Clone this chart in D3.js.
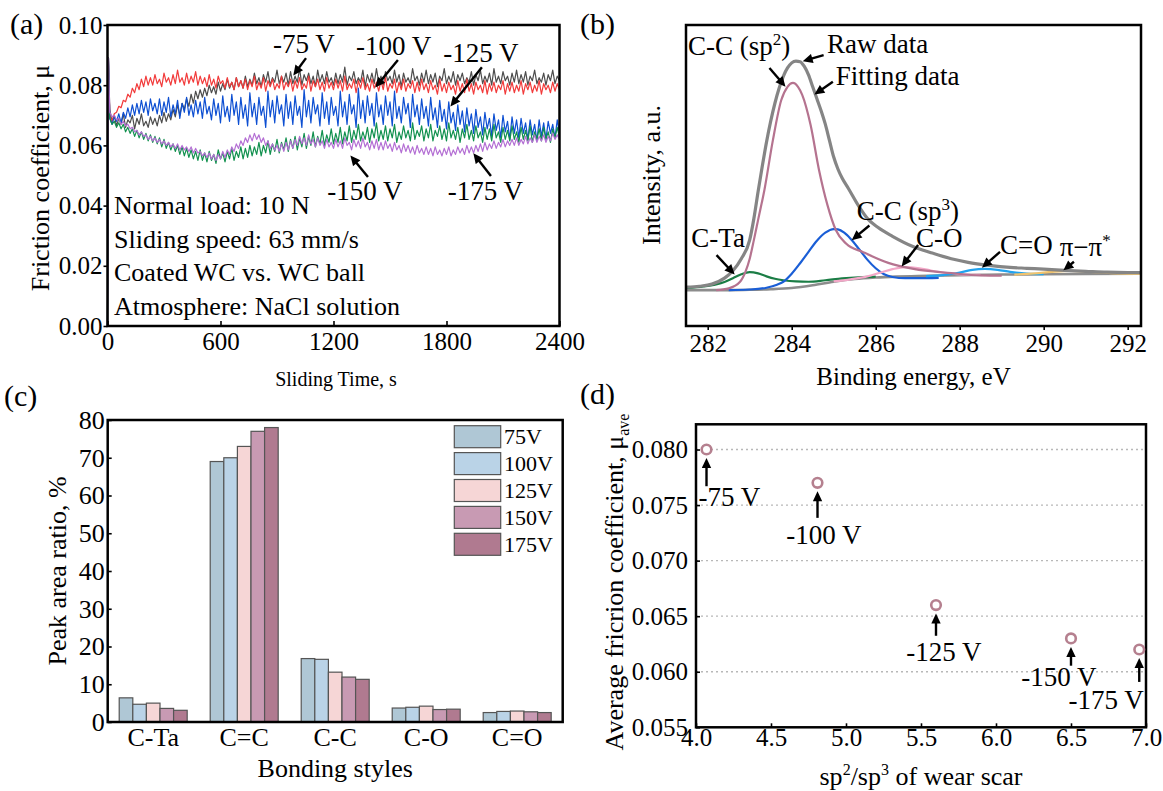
<!DOCTYPE html>
<html><head><meta charset="utf-8">
<script src="https://cdn.jsdelivr.net/npm/d3@7"></script>
<style>
body{margin:0;background:#fff}
svg{display:block}
</style></head><body>
<svg id="chart" width="1163" height="791"></svg>
<script>
// ================= DATA =================
// Panel (a): friction coefficient (x1000) vs sliding time (s)
const timeS = [0, 5, ...d3.range(12, 2401, 12)];
const timeTicks = [0, 600, 1200, 1800, 2400];
const muTicks = [0, 20, 40, 60, 80, 100];
const mu75 = [0, 89,
  72, 68, 70, 66.5, 69, 67, 70.5, 66, 68.5, 67.5, 70, 65.5, 69, 67, 70.5, 66.5, 68, 66, 69.5, 67,
  69, 66.5, 70, 67.5, 71, 68, 70.5, 68.5, 72, 69.5, 73.5, 70, 74, 72, 75.5, 73, 77, 74, 78, 75.5,
  78.5, 76, 79, 76.5, 80, 77.5, 79.5, 77, 81, 78, 80.5, 78.5, 82, 79, 81, 78.5, 82.5, 79.5, 81.5, 79,
  83, 79.5, 82, 80, 84, 80.5, 82.5, 79.5, 83.5, 81, 84.5, 80, 82.5, 81, 85, 80.5, 83, 81, 84, 80,
  84.5, 80.5, 83, 81, 85.5, 80, 83.5, 81.5, 84, 80.5, 83, 79.5, 85, 81, 83.5, 80.5, 84.5, 81, 82.5, 80,
  84, 80.5, 83.5, 81, 86, 80, 83, 81.5, 84.5, 80.5, 82.5, 81, 85, 79.5, 83.5, 81, 84, 80.5, 85.5, 81,
  83, 80, 84.5, 81.5, 83, 80.5, 85, 81, 83.5, 79.5, 84, 81, 82.5, 80.5, 85.5, 81.5, 83, 80, 84, 81,
  85, 80.5, 83.5, 81, 84, 79.5, 83, 81.5, 85.5, 80.5, 83, 81, 84.5, 80, 83.5, 81.5, 84, 80.5, 82.5, 81,
  84.5, 80, 83.5, 81.5, 85, 80.5, 83, 81, 84, 80, 85.5, 81, 83, 80.5, 84.5, 81.5, 83, 80, 84, 81,
  85, 80.5, 83.5, 81, 84.5, 80, 83, 81.5, 85, 80.5, 82.5, 81, 84, 80, 83.5, 81.5, 85, 80.5, 83, 81.5];
const mu100 = [0, 89,
  70, 68, 70.5, 71, 73, 72.5, 75, 74.5, 77, 76, 79, 77.5, 80.5, 78.5, 82, 79.5, 83, 80, 82.5, 80,
  83.5, 80.5, 82, 79.5, 84, 81, 82.5, 80, 83.5, 80.5, 85, 81, 82.5, 80, 84, 80.5, 83, 81, 84.5, 80,
  83, 80.5, 82.5, 79.5, 83.5, 80, 82, 79, 83, 80.5, 81.5, 79, 82.5, 79.5, 81, 78.5, 82.5, 79.5, 81.5, 79,
  82, 78.5, 81.5, 79.5, 83, 78.5, 81, 79, 82.5, 78, 81.5, 79.5, 82, 78.5, 80.5, 79, 83, 78.5, 81, 79.5,
  82, 78, 81.5, 79, 82.5, 78.5, 80.5, 79, 83, 78, 81.5, 79.5, 82, 78.5, 81, 78, 82.5, 79, 81, 78.5,
  82, 79, 81.5, 78, 83, 78.5, 80.5, 79, 82, 77.5, 81.5, 79, 82.5, 78.5, 80.5, 78, 82, 79, 81, 78,
  81.5, 78.5, 82.5, 78, 80.5, 79, 82, 77.5, 81, 78.5, 82, 78, 80.5, 79, 81.5, 77.5, 81, 78, 82, 78.5,
  80.5, 77.5, 81.5, 78.5, 80, 77, 82, 78, 80.5, 77.5, 81, 78.5, 80, 77, 81.5, 78, 80.5, 77.5, 82, 78,
  80.5, 77, 81, 78.5, 80, 77.5, 81.5, 77, 80.5, 78, 81, 77.5, 80, 78.5, 81.5, 77, 80.5, 78, 81, 77.5,
  80, 78, 81.5, 77, 80.5, 78.5, 81, 77.5, 80, 78, 81.5, 77, 80.5, 78.5, 80, 77.5, 81, 78, 80.5, 78.5];
const mu125 = [0, 89,
  69, 67, 69.5, 68, 70.5, 67.5, 71, 69, 72.5, 69.5, 73.5, 70, 74, 70.5, 75, 71, 74.5, 70, 75.5, 71.5,
  74, 70.5, 75.5, 70, 74.5, 71, 76, 69.5, 73.5, 70.5, 75, 69, 74, 71, 76, 70, 73.5, 69.5, 75, 70.5,
  74.5, 69, 76, 70.5, 73, 68.5, 75.5, 70, 74, 67.5, 76.5, 69.5, 73, 68, 77, 70, 74.5, 67, 76, 69,
  73.5, 66.5, 77.5, 69.5, 74, 67, 76, 70, 73, 66, 78, 69.5, 75, 67.5, 76.5, 70.5, 73.5, 66.5, 77, 69,
  74.5, 67, 76.5, 70, 73, 66, 78.5, 69.5, 75, 67.5, 76, 70.5, 73.5, 66.5, 77.5, 69, 74.5, 67, 76, 70,
  73, 66.5, 78, 69.5, 74.5, 67, 77, 70.5, 73.5, 66, 79, 69, 75, 67.5, 76.5, 70, 74, 66.5, 77.5, 69.5,
  73.5, 67, 76.5, 70, 74.5, 66.5, 78, 69, 73, 67.5, 76, 70.5, 74, 66, 77, 69.5, 73.5, 67, 75.5, 69,
  73, 66.5, 76, 68.5, 72.5, 66, 75, 68, 72, 65.5, 74.5, 67.5, 71, 65, 73.5, 67, 71.5, 64.5, 72.5, 66.5,
  70.5, 64, 72, 66, 69.5, 63.5, 71, 65.5, 69, 63, 70.5, 65, 68.5, 62.5, 70, 64.5, 68, 62, 69.5, 64,
  68.5, 62.5, 69, 64, 67.5, 62, 68.5, 63.5, 67, 61.5, 68.5, 63, 67.5, 62, 68, 64, 67, 62.5, 68.5, 64];
const mu150 = [0, 89,
  69, 67, 68, 66, 67.5, 65.5, 67, 64.5, 66, 64, 65.5, 63, 65, 62.5, 64.5, 62, 64, 61.5, 63.5, 61,
  63, 60.5, 62.5, 59.5, 62, 59, 61, 58.5, 60.5, 58, 60, 57, 59.5, 56.5, 59, 56, 58.5, 55.5, 58, 55,
  58.5, 55, 57.5, 54.5, 58, 55, 57, 54, 58.5, 55.5, 57.5, 54.5, 58, 55.5, 59, 55, 58, 56, 59.5, 55.5,
  59, 56, 60, 56.5, 59.5, 57, 61, 56.5, 60, 57.5, 61.5, 57, 60.5, 58, 62, 57.5, 61, 58.5, 62.5, 58,
  62, 59, 63, 58.5, 62.5, 59.5, 64, 59, 63, 60, 64.5, 59.5, 63, 60.5, 65, 60, 63.5, 61, 65.5, 60.5,
  64, 61, 66, 60.5, 64.5, 61.5, 66.5, 61, 65, 62, 67, 61.5, 64.5, 62, 66, 61, 65.5, 62.5, 67.5, 61.5,
  65, 62, 66.5, 61.5, 65.5, 62.5, 67, 61, 64.5, 62, 66.5, 62.5, 65, 61.5, 67.5, 62, 65, 63, 66.5, 61.5,
  65.5, 62.5, 67, 61.5, 65, 63, 66.5, 62, 65.5, 61.5, 67.5, 62.5, 65, 62, 66, 61, 65.5, 62.5, 67, 62,
  65, 61.5, 66.5, 62.5, 64.5, 61, 66, 62, 65.5, 61.5, 67, 62.5, 64.5, 61, 66, 62, 65, 61.5, 66.5, 62,
  64.5, 61, 66, 62, 65, 61.5, 66.5, 61, 64.5, 62, 65.5, 61.5, 66, 62, 64.5, 61, 65.5, 62.5, 66, 62.5];
const mu175 = [0, 89,
  71, 69.5, 70, 68.5, 69, 67, 68, 66.5, 67, 65.5, 66, 64.5, 65, 63.5, 64.5, 63, 63.5, 62, 63, 61.5,
  62.5, 61, 62, 60.5, 61.5, 60, 61, 59.5, 60.5, 59, 60.5, 58.5, 60, 58.5, 59.5, 58, 59.5, 57.5, 59, 57.5,
  58, 56.5, 57.5, 56, 57.5, 55.5, 57, 55, 57, 55.5, 58, 56, 58.5, 57, 59.5, 58, 60.5, 59, 61.5, 60,
  62.5, 61, 63.5, 61.5, 64, 62, 63.5, 61, 62.5, 60, 61.5, 59, 60.5, 58.5, 60, 58, 60.5, 58, 61, 58.5,
  61.5, 59, 62, 60, 63, 60.5, 62.5, 60, 63.5, 60.5, 62, 59.5, 62.5, 60, 61.5, 59, 62, 59.5, 61, 59,
  62, 59.5, 61.5, 59, 62.5, 60, 61, 58.5, 62, 59.5, 61.5, 59, 62.5, 59.5, 61, 58.5, 61.5, 59, 62, 58.5,
  61, 58.5, 61.5, 59, 60.5, 58, 61, 58.5, 60, 57.5, 60.5, 58, 60, 57.5, 59.5, 57, 60, 57.5, 59, 57,
  59.5, 57, 59, 56.5, 59.5, 57, 58.5, 56.5, 59, 57, 59.5, 56.5, 58.5, 57, 59.5, 57.5, 59, 57, 60, 57.5,
  59.5, 57.5, 60, 58, 60.5, 58, 61, 58.5, 60.5, 59, 61.5, 59, 61, 59.5, 62, 59.5, 61.5, 60, 62, 60,
  62.5, 60, 62, 60.5, 63, 60.5, 62.5, 61, 63.5, 61, 63, 61.5, 63.5, 61, 63, 61.5, 64, 62, 63.5, 62];
const conditionLines = ["Normal load: 10 N", "Sliding speed: 63 mm/s", "Coated WC vs. WC ball", "Atmosphere: NaCl solution"];

// Panel (b): XPS C1s spectrum, [binding energy eV, intensity a.u.]
const eVTicks = [282, 284, 286, 288, 290, 292];
const xpsRaw = [[281.5,13.0],[281.8,13.3],[282.1,14.0],[282.4,16.0],[282.6,18.5],[282.8,22.5],[283.0,28.8],[283.1,36],[283.2,45],[283.3,53.5],[283.4,61.5],[283.5,68.5],[283.6,74.5],[283.7,79.5],[283.8,83.5],[283.9,86.3],[284.0,88],[284.1,88.6],[284.2,88.4],[284.3,86.8],[284.4,84],[284.5,80],[284.6,76],[284.7,72],[284.8,67.5],[284.9,62],[285.0,56.5],[285.1,52.5],[285.2,49.5],[285.35,46],[285.6,40],[285.8,36],[286.05,33],[286.4,30],[286.9,26.5],[287.3,24.6],[287.8,22.5],[288.2,21.3],[288.7,20.3],[289.2,19.6],[289.6,19.3],[290.0,19.0],[290.5,18.6],[291.0,18.3],[291.5,18.0],[292.0,17.9],[292.32,17.9]];
const xpsBackground = [[281.5,12.0],[282.5,12.0],[283.0,12.1],[283.5,12.3],[284.0,12.7],[284.5,13.6],[285.0,14.8],[285.5,15.7],[286.0,16.2],[286.5,16.5],[287.0,16.7],[288.0,17.0],[289.0,17.2],[290.0,17.3],[291.0,17.4],[292.32,17.5]];
const xpsCTa = [[281.5,12.7],[281.9,13.2],[282.2,13.9],[282.4,14.7],[282.6,16.0],[282.8,17.3],[283.0,18.0],[283.2,17.6],[283.4,16.6],[283.6,15.8],[283.8,15.3],[284.1,14.9],[284.4,14.8],[284.8,15.3],[285.2,15.9],[285.6,16.3],[286.0,16.5]];
const xpsSp2 = [[282.2,12.0],[282.5,12.6],[282.77,14.8],[282.9,18.2],[283.0,22.5],[283.1,28.8],[283.2,35.5],[283.35,45.5],[283.55,62],[283.75,75.5],[283.9,80],[284.03,81.3],[284.15,80],[284.25,77.3],[284.45,67.2],[284.65,52.2],[284.85,40.5],[285.05,32.1],[285.3,27.5],[285.7,24.7],[286.3,21.1],[286.9,19.1],[287.8,17.7],[288.5,16.9],[289.0,16.8]];
const xpsSp3 = [[282.5,12.0],[283.0,12.2],[283.4,12.8],[283.65,13.8],[283.8,14.8],[284.0,17.5],[284.2,21],[284.4,24.8],[284.6,28.5],[284.8,31.2],[285.0,32.4],[285.1,32.3],[285.25,31.2],[285.4,29.2],[285.6,25.8],[285.8,22.2],[286.0,19.3],[286.2,17.3],[286.4,16.4],[286.7,16.0],[287.0,16.0],[287.5,16.1]];
const xpsCO = [[285.0,14.9],[285.4,15.6],[285.8,16.6],[286.1,17.8],[286.4,19.0],[286.7,19.7],[287.0,19.4],[287.3,18.6],[287.7,17.7],[288.1,17.2],[288.5,17.1]];
const xpsCdO = [[287.2,16.7],[287.6,17.0],[288.0,17.9],[288.3,18.8],[288.6,19.1],[288.9,18.8],[289.2,18.1],[289.6,17.5],[290.0,17.3]];
const xpsPi = [[289.3,17.2],[289.8,17.6],[290.2,18.1],[290.6,18.4],[291.0,18.2],[291.4,17.9],[291.8,17.6],[292.32,17.5]];

// Panel (c): peak area ratio (%)
const bondCats = ["C-Ta", "C=C", "C-C", "C-O", "C=O"];
const biasLabels = ["75V", "100V", "125V", "150V", "175V"];
const ratio75V  = [6.4, 69, 16.8, 3.7, 2.5];
const ratio100V = [4.7, 70, 16.6, 3.9, 2.8];
const ratio125V = [5.0, 73, 13.2, 4.2, 2.9];
const ratio150V = [3.6, 77, 11.9, 3.3, 2.7];
const ratio175V = [3.1, 78, 11.3, 3.4, 2.5];
const ratioTicks = [0, 10, 20, 30, 40, 50, 60, 70, 80];

// Panel (d): average friction vs sp2/sp3
const sp2sp3 = [4.07, 4.81, 5.60, 6.50, 6.955];
const muAve = [0.080, 0.077, 0.066, 0.063, 0.062];
const dLabels = ["-75 V", "-100 V", "-125 V", "-150 V", "-175 V"];
const sp2Ticks = [4.0, 4.5, 5.0, 5.5, 6.0, 6.5, 7.0];
const muAveTicks = [0.055, 0.060, 0.065, 0.070, 0.075, 0.080];

// ================= DRAWING =================
const SERIF = "'Liberation Serif','Times New Roman',serif";
const svg = d3.select("#chart").attr("font-family", SERIF);
const defs = svg.append("defs");
defs.append("marker").attr("id", "arr").attr("viewBox", "0 0 10 10")
  .attr("refX", 4.5).attr("refY", 5).attr("markerWidth", 11).attr("markerHeight", 10)
  .attr("markerUnits", "userSpaceOnUse").attr("orient", "auto")
  .append("path").attr("d", "M0,0.3L10,5L0,9.7Z").attr("fill", "#000");

function arrow(x1, y1, x2, y2) {
  const dx = x2 - x1, dy = y2 - y1, L = Math.hypot(dx, dy);
  const ex = x2 - dx / L * 6, ey = y2 - dy / L * 6;
  svg.append("line").attr("x1", x1).attr("y1", y1).attr("x2", ex).attr("y2", ey)
    .attr("stroke", "#000").attr("stroke-width", 2.4).attr("marker-end", "url(#arr)");
}
function frame(x0, y0, x1, y1) {
  svg.append("rect").attr("x", x0).attr("y", y0).attr("width", x1 - x0).attr("height", y1 - y0)
    .attr("fill", "none").attr("stroke", "#000").attr("stroke-width", 2.5);
}
function styleAxis(g, fs) {
  g.attr("font-family", SERIF).attr("font-size", fs);
  g.select(".domain").remove();
  g.selectAll(".tick text").attr("fill", "#000");
  g.selectAll(".tick line").attr("stroke", "#000").attr("stroke-width", 1.6);
}
function text(x, y, s, fs, anchor) {
  return svg.append("text").attr("x", x).attr("y", y).attr("font-size", fs)
    .attr("text-anchor", anchor || "start").attr("fill", "#000").text(s);
}
function rotText(cx, cy, fs) {
  return svg.append("text").attr("transform", `translate(${cx},${cy}) rotate(-90)`)
    .attr("font-size", fs).attr("text-anchor", "middle").attr("dy", "0.35em").attr("fill", "#000");
}

// ---------- Panel (a) ----------
{
  const x = d3.scaleLinear().domain([0, 2400]).range([107.5, 559.5]);
  const y = d3.scaleLinear().domain([0, 100]).range([326, 25]);
  const series = [mu75, mu100, mu125, mu150, mu175];
  const colors = ["#4d4d4d", "#f23b3b", "#0d4fd2", "#12914f", "#b46fd4"];
  const line = d3.line().x((d, i) => x(timeS[i])).y(d => y(d));
  series.forEach((s, k) => {
    svg.append("path").datum(s.slice(0, timeS.length)).attr("d", line)
      .attr("fill", "none").attr("stroke", colors[k]).attr("stroke-width", 1.2).attr("stroke-linejoin", "round");
  });
  const gx = svg.append("g").attr("transform", "translate(0,326)")
    .call(d3.axisBottom(x).tickValues(timeTicks).tickFormat(d3.format("d")).tickSizeInner(-5).tickSizeOuter(0).tickPadding(6));
  styleAxis(gx, 25);
  const gy = svg.append("g").attr("transform", "translate(107.5,0)")
    .call(d3.axisLeft(y).tickValues(muTicks).tickFormat(d => (d / 1000).toFixed(2)).tickSizeInner(4).tickSizeOuter(0).tickPadding(1));
  styleAxis(gy, 25);
  frame(107.5, 25, 559.5, 326);
  // labels with arrows (data coords: time, mu x1000)
  const ann = [
    { t: "-75 V", tx: 1043, ty: 90.7, a: [1054, 89.0, 985, 83.1] },
    { t: "-100 V", tx: 1519, ty: 90.0, a: [1542, 88.4, 1420, 79.1] },
    { t: "-125 V", tx: 1983, ty: 87.7, a: [1988, 86.0, 1819, 72.8] },
    { t: "-150 V", tx: 1367, ty: 41.9, a: [1383, 49.5, 1288, 56.8] },
    { t: "-175 V", tx: 2007, ty: 41.9, a: [2036, 49.8, 1941, 57.5] }
  ];
  ann.forEach(d => {
    text(x(d.tx), y(d.ty), d.t, 27, "middle");
    arrow(x(d.a[0]), y(d.a[1]), x(d.a[2]), y(d.a[3]));
  });
  conditionLines.forEach((s, i) => text(114, 214 + i * 33.5, s, 26));
  text(336, 386, "Sliding Time, s", 20, "middle");
  rotText(40, 178, 26).text("Friction coefficient, μ");
  text(10, 34, "(a)", 30);
}

// ---------- Panel (b) ----------
{
  const x = d3.scaleLinear().domain([281.483, 292.317]).range([686, 1141]);
  const y = d3.scaleLinear().domain([0, 100]).range([326, 27]);
  const line = d3.line().x(d => x(d[0])).y(d => y(d[1])).curve(d3.curveMonotoneX);
  const curves = [
    [xpsBackground, "#8c8c8c", 2.6],
    [xpsCTa, "#1b7d45", 2.2],
    [xpsSp3, "#1a5ed6", 2.2],
    [xpsCO, "#f3a8c8", 2.2],
    [xpsCdO, "#22a3ee", 2.2],
    [xpsPi, "#f0c36e", 2.2],
    [xpsRaw, "#858585", 3.2],
    [xpsSp2, "#b5738f", 2.2]
  ];
  curves.forEach(c => svg.append("path").datum(c[0]).attr("d", line)
    .attr("fill", "none").attr("stroke", c[1]).attr("stroke-width", c[2]));
  const gx = svg.append("g").attr("transform", "translate(0,326)")
    .call(d3.axisBottom(x).tickValues(eVTicks).tickFormat(d3.format("d")).tickSizeInner(4).tickSizeOuter(0).tickPadding(4));
  styleAxis(gx, 25);
  frame(686, 25, 1141, 326);
  const ann = [
    { t: "C-C (sp", sup: "2", after: ")", tx: 281.53, ty: 90.6, a: [283.47, 86.3, 283.86, 79.9] },
    { t: "Raw data", tx: 284.84, ty: 91.3, a: [284.76, 90.6, 284.25, 88.5] },
    { t: "Fitting data", tx: 285.05, ty: 80.6, a: [284.98, 81.7, 284.53, 77.3] },
    { t: "C-C (sp", sup: "3", after: ")", tx: 285.55, ty: 35.5, a: [285.85, 33.6, 285.42, 28.6] },
    { t: "C-O", tx: 286.96, ty: 26.4, a: [287.01, 27.1, 286.61, 19.8] },
    { t: "C=O", tx: 288.96, ty: 24.1, a: [288.96, 24.8, 288.52, 19.4] },
    { t: "π−π", sup: "*", after: "", tx: 290.38, ty: 23.4, a: [290.72, 21.5, 290.46, 18.5] },
    { t: "C-Ta", tx: 281.61, ty: 26.4, a: [282.21, 23.7, 282.65, 17.1] }
  ];
  ann.forEach(d => {
    const t = text(x(d.tx), y(d.ty), d.t, 27);
    if (d.sup) {
      t.append("tspan").attr("dy", -10).attr("font-size", 17).text(d.sup);
      t.append("tspan").attr("dy", 10).text(d.after);
    }
    arrow(x(d.a[0]), y(d.a[1]), x(d.a[2]), y(d.a[3]));
  });
  text(913.5, 385, "Binding energy, eV", 25, "middle");
  rotText(651, 175, 26).text("Intensity, a.u.");
  text(580, 34, "(b)", 30);
}

// ---------- Panel (c) ----------
{
  const X0 = 107.7, X1 = 562.7, Y0 = 420, Y1 = 722;
  const x0 = d3.scaleBand().domain(bondCats).range([X0, X1]).paddingInner(0.253).paddingOuter(0.1265);
  const x1 = d3.scaleBand().domain(biasLabels).range([0, x0.bandwidth()]);
  const y = d3.scaleLinear().domain([0, 80]).range([Y1, Y0]);
  const fills = ["#afc7d5", "#bad3e7", "#f6d6d6", "#c89ab3", "#b07a90"];
  const sets = [ratio75V, ratio100V, ratio125V, ratio150V, ratio175V];
  sets.forEach((vals, k) => {
    svg.append("g").selectAll("rect").data(vals).join("rect")
      .attr("x", (d, i) => x0(bondCats[i]) + x1(biasLabels[k]))
      .attr("y", d => y(d)).attr("width", x1.bandwidth()).attr("height", d => Y1 - y(d))
      .attr("fill", fills[k]).attr("stroke", "#555").attr("stroke-width", 1.2);
  });
  const gx = svg.append("g").attr("transform", `translate(0,${Y1})`)
    .call(d3.axisBottom(x0).tickSize(0).tickPadding(6));
  styleAxis(gx, 26);
  const gy = svg.append("g").attr("transform", `translate(${X0},0)`)
    .call(d3.axisLeft(y).tickValues(ratioTicks).tickSizeInner(-4).tickSizeOuter(0).tickPadding(3));
  styleAxis(gy, 26);
  frame(X0, Y0, X1, Y1);
  biasLabels.forEach((b, i) => {
    const top = 425.7 + i * 26.9;
    svg.append("rect").attr("x", 454.3).attr("y", top).attr("width", 46.4).attr("height", 22)
      .attr("fill", fills[i]).attr("stroke", "#555").attr("stroke-width", 1.2);
    text(504, top + 11, b, 22).attr("dy", "0.35em");
  });
  text(335.2, 777, "Bonding styles", 26, "middle");
  rotText(57, 571, 26).text("Peak area ratio, %");
  text(4, 406, "(c)", 30);
}

// ---------- Panel (d) ----------
{
  const X0 = 696, X1 = 1146, Y0 = 424.3, Y1 = 727.3;
  const x = d3.scaleLinear().domain([4.0, 7.0]).range([X0, X1]);
  const y = d3.scaleLinear().domain([0.055, 0.08227]).range([Y1, Y0]);
  svg.append("g").selectAll("line").data(muAveTicks.slice(1)).join("line")
    .attr("x1", X0).attr("x2", X1).attr("y1", d => y(d)).attr("y2", d => y(d))
    .attr("stroke", "#b8b8b8").attr("stroke-width", 1.3).attr("stroke-dasharray", "2,3");
  const gx = svg.append("g").attr("transform", `translate(0,${Y1})`)
    .call(d3.axisBottom(x).tickValues(sp2Ticks).tickFormat(d3.format(".1f")).tickSizeInner(-4).tickSizeOuter(0).tickPadding(1));
  styleAxis(gx, 25);
  const gy = svg.append("g").attr("transform", `translate(${X0},0)`)
    .call(d3.axisLeft(y).tickValues(muAveTicks).tickFormat(d3.format(".3f")).tickSizeInner(-4).tickSizeOuter(0).tickPadding(8));
  styleAxis(gy, 25);
  frame(X0, Y0, X1, Y1);
  svg.append("g").selectAll("circle").data(sp2sp3).join("circle")
    .attr("cx", d => x(d)).attr("cy", (d, i) => y(muAve[i])).attr("r", 4.8)
    .attr("fill", "#fff").attr("stroke", "#b5808f").attr("stroke-width", 2.6);
  // label offsets relative to points (pixels)
  const lab = [
    { dx: 23, dy: 56.7, tail: 36.7 },
    { dx: 6.5, dy: 61.3, tail: 35 },
    { dx: 8, dy: 55.7, tail: 30.7 },
    { dx: -12, dy: 47.5, tail: 27.3 },
    { dx: -33, dy: 59, tail: 32.4 }
  ];
  sp2sp3.forEach((r, i) => {
    const px = x(r), py = y(muAve[i]);
    arrow(px, py + lab[i].tail, px, py + 8);
    text(px + lab[i].dx, py + lab[i].dy, dLabels[i], 27, "middle");
  });
  const xt = text(921, 785, "sp", 26, "middle");
  xt.append("tspan").attr("dy", -10).attr("font-size", 16).text("2");
  xt.append("tspan").attr("dy", 10).text("/sp");
  xt.append("tspan").attr("dy", -10).attr("font-size", 16).text("3");
  xt.append("tspan").attr("dy", 10).text(" of wear scar");
  const yt = rotText(614, 582, 26).text("Average fricrion coefficient, μ");
  yt.append("tspan").attr("dy", 6).attr("font-size", 16).text("ave");
  text(580, 404, "(d)", 30);
}
</script>
</body></html>
